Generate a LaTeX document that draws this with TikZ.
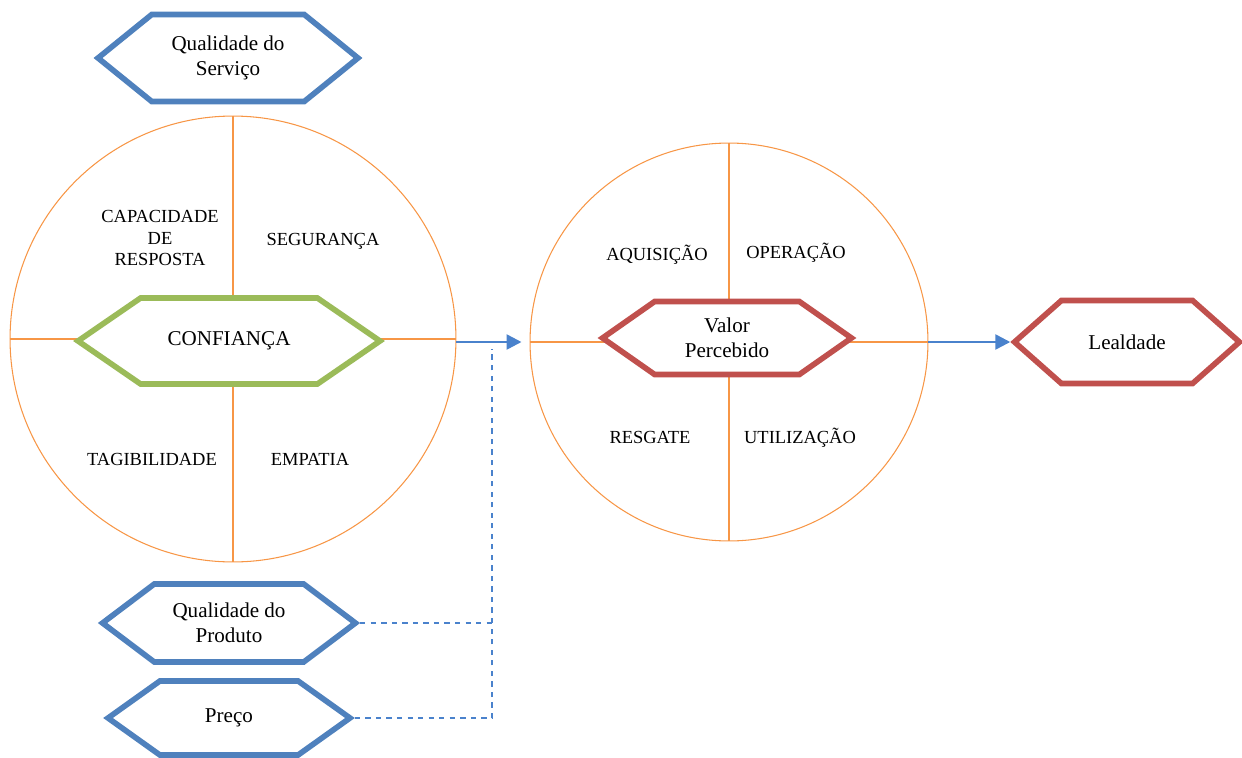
\documentclass[tikz,border=0pt]{standalone}
\usepackage{fontspec}
\setmainfont{Liberation Serif}
\usetikzlibrary{positioning,arrows.meta,shapes.symbols}
\definecolor{hexblue}{RGB}{79,129,189}
\definecolor{hexgreen}{RGB}{155,187,89}
\definecolor{hexred}{RGB}{192,80,77}
\definecolor{ringorange}{RGB}{247,150,70}
\definecolor{arrowblue}{RGB}{74,130,204}

\begin{document}
\begin{tikzpicture}[x=0.02cm, y=-0.02cm,
	hexa/.style={signal, signal to=east and west, draw, line width=3.2pt, fill=white, align=center, font=\fontsize{12}{14}\selectfont, inner sep=0pt},
	ring/.style={circle, draw=ringorange, line width=0.6pt, inner sep=0pt},
	quad/.style={font=\fontsize{10.5}{12.5}\selectfont, align=center},
	cut/.style={draw=ringorange, line width=0.6pt},
	flow/.style={draw=arrowblue, line width=1.4pt, -{Triangle[length=0.3cm, width=0.3cm]}},
	link/.style={draw=arrowblue, line width=0.8pt, dashed}]
		\useasboundingbox (0,0) rectangle (1242,758);
		
		\node [ring, minimum size=8.92cm] (ringA) at (233,339) {};
		\node [ring, minimum size=7.96cm] (ringB) at (729,342) {};
		\draw [cut] (ringA.north) -- (ringA.south);
		\draw [cut] (ringA.west) -- (ringA.east);
		\draw [cut] (ringB.north) -- (ringB.south);
		\draw [cut] (ringB.west) -- (ringB.east);
		
		\node [hexa, draw=hexblue, minimum width=5.2cm, minimum height=1.74cm, signal pointer angle=78] (servico) at (228,58) {Qualidade do\\Serviço};
		\node [hexa, draw=hexgreen, minimum width=6.04cm, minimum height=1.72cm, signal pointer angle=69] (conf) at (229,341) {CONFIANÇA};
		\node [hexa, draw=hexred, minimum width=4.98cm, minimum height=1.46cm, signal pointer angle=70] (valor) at (727,338) {Valor\\Percebido};
		\node [hexa, draw=hexred, minimum width=4.5cm, minimum height=1.66cm, signal pointer angle=83] (lealdade) at (1127,342) {Lealdade};
		\node [hexa, draw=hexblue, minimum width=5.06cm, minimum height=1.56cm, signal pointer angle=74] (produto) at (229,623) {Qualidade do\\Produto};
		\node [hexa, draw=hexblue, minimum width=4.84cm, minimum height=1.48cm, signal pointer angle=71] (preco) at (229,718) {Preço};
		
		\node [quad] (capacidade) at (160,238) {CAPACIDADE\\DE\\RESPOSTA};
		\node [quad] (seguranca) at (323,241) {SEGURANÇA};
		\node [quad] (tagib) at (152,459) {TAGIBILIDADE};
		\node [quad] (empatia) at (310,459) {EMPATIA};
		\node [quad] (aquisicao) at (657,255) {AQUISIÇÃO};
		\node [quad] (operacao) at (796,253) {OPERAÇÃO};
		\node [quad] (resgate) at (650,437) {RESGATE};
		\node [quad] (utilizacao) at (800,438) {UTILIZAÇÃO};
		
		\draw [flow] (ringA.east |- ringB.west) -- ([xshift=-0.16cm]ringB.west);
		\draw [flow] (ringB.east) -- (lealdade.west);
		
		\coordinate (juncao) at (492,349);
		\draw [link] (preco.east) -- (preco.east -| juncao) -- (juncao);
		\draw [link] (produto.east) -- (produto.east -| juncao);
		
	\end{tikzpicture}
\end{document}
